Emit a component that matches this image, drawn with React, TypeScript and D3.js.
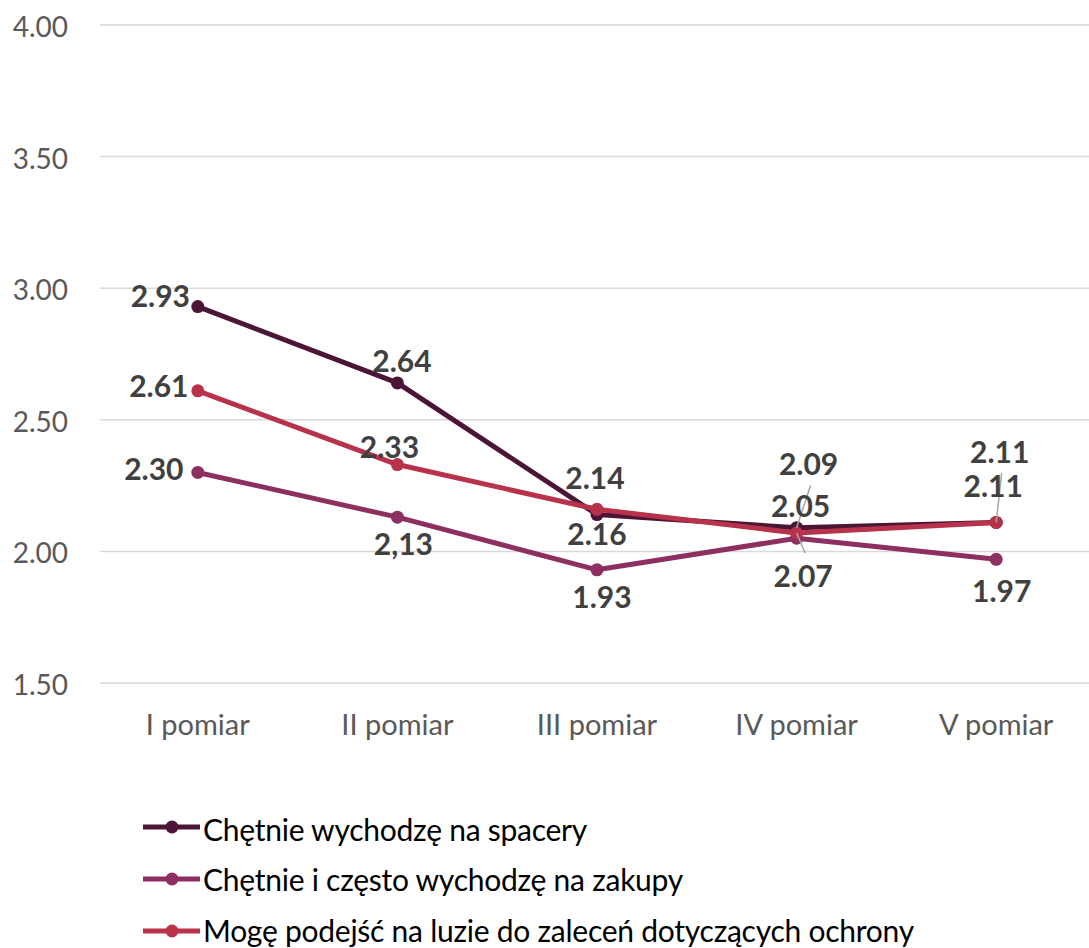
import React from "react";
import * as d3 from "d3";

const categories = ["I pomiar", "II pomiar", "III pomiar", "IV pomiar", "V pomiar"];
const seriesNames = [
  "Chętnie wychodzę na spacery",
  "Chętnie i często wychodzę na zakupy",
  "Mogę podejść na luzie do zaleceń dotyczących ochrony",
];
const spacery = [2.93, 2.64, 2.14, 2.09, 2.11];
const zakupy = [2.3, 2.13, 1.93, 2.05, 1.97];
const zalecenia = [2.61, 2.33, 2.16, 2.07, 2.11];
const spaceryLabels = ["2.93", "2.64", "2.14", "2.09", "2.11"];
const zakupyLabels = ["2.30", "2,13", "1.93", "2.05", "1.97"];
const zaleceniaLabels = ["2.61", "2.33", "2.16", "2.07", "2.11"];
const yTicks = [1.5, 2.0, 2.5, 3.0, 3.5, 4.0];

const colors = ["#4B1535", "#8E2F62", "#B8324C"];

// label offsets (dx, baseline dy) relative to point, and whether a leader line is drawn
const labelOffsets: [number, number, boolean][][] = [
  [[-37.5, 0, false], [4.5, -11, false], [-2, -25.5, false], [12, -52.5, true], [3.5, -59.5, true]],
  [[-44, 7.5, false], [6, 38, false], [5, 38, false], [4, -21, false], [5.5, 43, false]],
  [[-39, 6, false], [-8, -6.5, false], [0, 36, false], [6.5, 54, true], [-3, -25.5, false]],
];

const W = 1089;
const H = 948;
const font = "Lato, 'Open Sans', sans-serif";

export default function App() {
  const x = d3.scaleBand().domain(categories).range([98, 1096]);
  const y = d3.scaleLinear().domain([1.5, 4.0]).range([683, 25]);
  const cx = (c: string) => (x(c) as number) + x.bandwidth() / 2;
  const series = [spacery, zakupy, zalecenia];
  const labels = [spaceryLabels, zakupyLabels, zaleceniaLabels];
  const line = d3
    .line<number>()
    .x((_, i) => cx(categories[i]))
    .y((d) => y(d));

  return (
    <svg
      width={W}
      height={H}
      style={{ position: "absolute", left: 0, top: 0, background: "#fff" }}
      fontFamily={font}
    >
      {yTicks.map((t) => (
        <g key={t}>
          <line x1={100} x2={W} y1={y(t)} y2={y(t)} stroke="#d9d9d9" strokeWidth={1.5} />
          <text x={68} y={y(t) + 12} textAnchor="end" fontSize={28} fill="#595959">
            {d3.format(".2f")(t)}
          </text>
        </g>
      ))}
      {categories.map((c) => (
        <text key={c} x={cx(c)} y={735} textAnchor="middle" fontSize={29} fill="#595959">
          {c}
        </text>
      ))}
      {series.map((s, si) => (
        <g key={si}>
          <path d={line(s) as string} fill="none" stroke={colors[si]} strokeWidth={5} strokeLinejoin="round" />
          {s.map((v, i) => (
            <circle key={i} cx={cx(categories[i])} cy={y(v)} r={6.5} fill={colors[si]} />
          ))}
        </g>
      ))}
      {series.map((s, si) =>
        s.map((v, i) => {
          const [dx, dy, leader] = labelOffsets[si][i];
          const px = cx(categories[i]);
          const py = y(v);
          const lx = px + dx;
          const ly = py + dy;
          return (
            <g key={`${si}-${i}`}>
              {leader && (
                <line
                  x1={px}
                  y1={py}
                  x2={lx + 2}
                  y2={dy < 0 ? ly + 10 : ly - 34}
                  stroke="#a6a6a6"
                  strokeWidth={1.5}
                />
              )}
              <text x={lx} y={ly} textAnchor="middle" fontSize={30} fontWeight="bold" fill="#404040">
                {labels[si][i]}
              </text>
            </g>
          );
        })
      )}
      {seriesNames.map((n, i) => {
        const ly = 827 + i * 52;
        return (
          <g key={n}>
            <line x1={143} x2={200} y1={ly} y2={ly} stroke={colors[i]} strokeWidth={5} />
            <circle cx={172} cy={ly} r={6.5} fill={colors[i]} />
            <text x={203} y={ly + 13.5 - i * 1.5} fontSize={30} letterSpacing={-0.25} fill="#000">
              {n}
            </text>
          </g>
        );
      })}
    </svg>
  );
}
